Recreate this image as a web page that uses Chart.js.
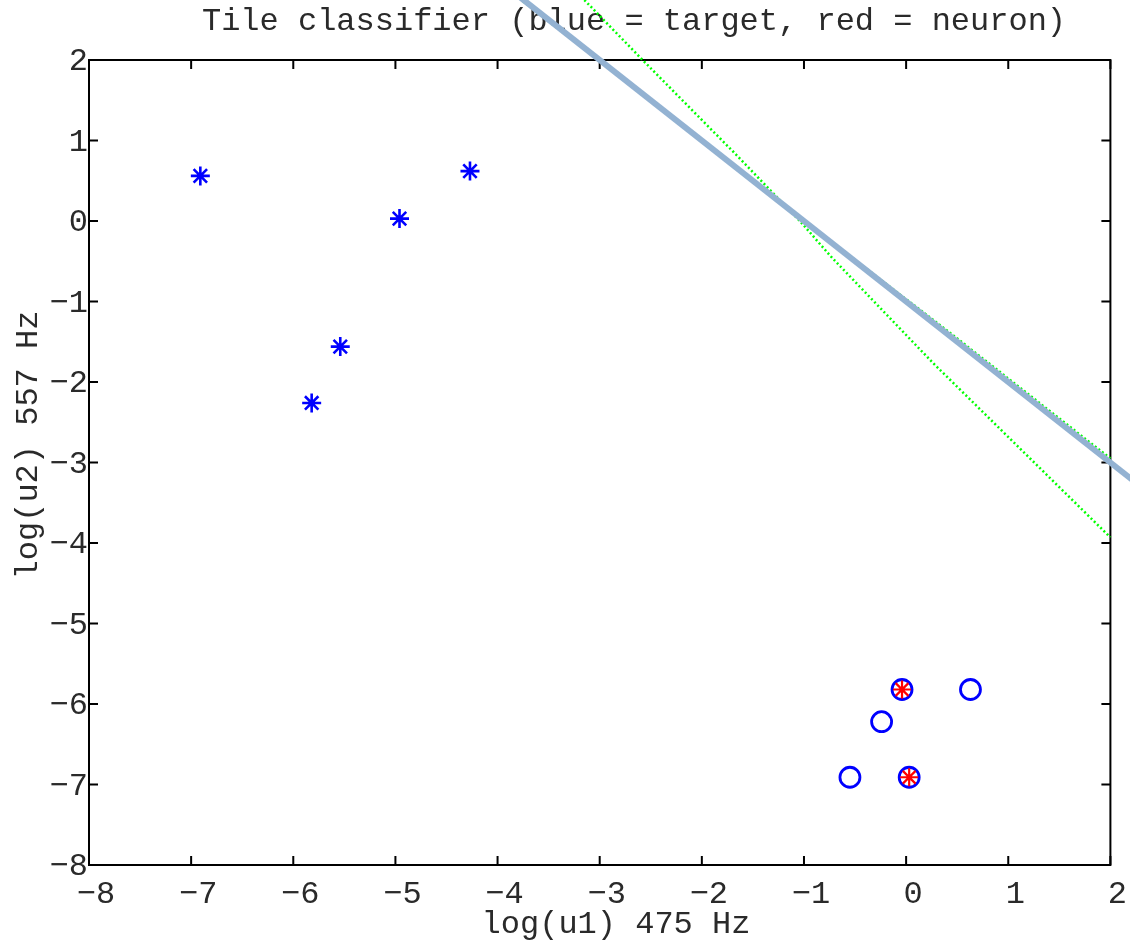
<!DOCTYPE html>
<html lang="en">
<head>
  <meta charset="UTF-8" />
  <title>Tile classifier</title>

  <!-- Chart.js -->
  <script src="https://cdn.jsdelivr.net/npm/chart.js"></script>

  <style>
    html, body { margin: 0; padding: 0; background: #fff; }
    #wrap { width: 1130px; height: 946px; position: relative; }
  </style>
</head>
<body>

<div id="wrap"><canvas id="tileChart"></canvas></div>

<script>
  // axis ticks
  const xTicks = [-8, -7, -6, -5, -4, -3, -2, -1, 0, 1, 2];
  const yTicks = [-8, -7, -6, -5, -4, -3, -2, -1, 0, 1, 2];

  // targets, log(u1) / log(u2)
  const starX = [-6.91, -5.82, -5.54, -4.96, -4.27];
  const starY = [0.56, -2.26, -1.56, 0.03, 0.62];
  const circleX = [-0.04, 0.63, -0.24, -0.55, 0.03];
  const circleY = [-5.82, -5.82, -6.22, -6.91, -6.91];

  // neuron answers
  const neuronX = [-0.04, 0.03];
  const neuronY = [-5.82, -6.91];

  // separating line (blue) and the two green estimates
  const lineX = [-3.8, 2.25];
  const lineY = [2.8, -3.25];
  const greenAX = [-3.15, -2.58, -1.70, -1.04, -0.73, 0.26, 1.23, 2.0];
  const greenAY = [2.745, 2.0, 0.87, 0.0, -0.45, -1.76, -2.97, -3.93];
  const greenBX = [-3.75, -1.0, 0.4, 2.0];
  const greenBY = [2.73, 0.0, -1.36, -2.95];

  const pts = (xs, ys) => xs.map((x, i) => ({ x: x, y: ys[i] }));
  const fmt = v => (v < 0 ? '\u2212' + Math.abs(v) : String(v));
  const FONT = '"Liberation Mono", "Courier New", monospace';
  const INK = '#2a2a2a';

  // box, inward ticks and titles (matlab look)
  const frame = {
    id: 'frame',
    beforeDatasetsDraw(chart) {
      const { ctx, chartArea: a, scales: { x, y } } = chart;
      ctx.save();
      ctx.strokeStyle = '#000';
      ctx.lineWidth = 2;
      ctx.strokeRect(a.left, a.top, a.right - a.left, a.bottom - a.top);
      ctx.beginPath();
      xTicks.forEach(v => {
        const px = x.getPixelForValue(v);
        ctx.moveTo(px, a.bottom); ctx.lineTo(px, a.bottom - 9);
        ctx.moveTo(px, a.top); ctx.lineTo(px, a.top + 9);
      });
      yTicks.forEach(v => {
        const py = y.getPixelForValue(v);
        ctx.moveTo(a.left, py); ctx.lineTo(a.left + 9, py);
        ctx.moveTo(a.right, py); ctx.lineTo(a.right - 9, py);
      });
      ctx.stroke();

      ctx.fillStyle = INK;
      ctx.font = '32px ' + FONT;
      ctx.textAlign = 'center';
      ctx.textBaseline = 'alphabetic';
      ctx.fillText('Tile classifier (blue = target, red = neuron)', 634, 30);
      ctx.fillText('log(u1) 475 Hz', 616, 933);

      ctx.translate(37, 445);
      ctx.rotate(-Math.PI / 2);
      ctx.fillText('log(u2) 557 Hz', 0, 0);
      ctx.restore();
    }
  };

  const tickFont = { family: FONT, size: 32 };

  new Chart(document.getElementById('tileChart'), {
    type: 'scatter',
    data: {
      datasets: [
        {
          label: 'neuron',
          data: pts(neuronX, neuronY),
          pointStyle: 'star',
          pointRadius: 9,
          pointBorderWidth: 2.2,
          borderColor: '#ff0000',
          backgroundColor: '#ff0000'
        },
        {
          label: 'target o',
          data: pts(circleX, circleY),
          pointStyle: 'circle',
          pointRadius: 10,
          pointBorderWidth: 2.8,
          borderColor: '#0000ff',
          backgroundColor: 'rgba(0,0,0,0)'
        },
        {
          label: 'target *',
          data: pts(starX, starY),
          pointStyle: 'star',
          pointRadius: 9.5,
          pointBorderWidth: 2.6,
          borderColor: '#0000ff',
          backgroundColor: '#0000ff'
        },
        {
          label: 'boundary',
          data: pts(lineX, lineY),
          showLine: true,
          pointRadius: 0,
          borderColor: '#93b2d2',
          borderWidth: 6,
          clip: false
        },
        {
          label: 'green a',
          data: pts(greenAX, greenAY),
          showLine: true,
          pointRadius: 0,
          borderColor: '#00ff00',
          borderWidth: 2.5,
          borderDash: [2, 2.5],
          clip: false
        },
        {
          label: 'green b',
          data: pts(greenBX, greenBY),
          showLine: true,
          pointRadius: 0,
          borderColor: '#00ff00',
          borderWidth: 2.5,
          borderDash: [2, 2.5],
          clip: false
        }
      ]
    },
    options: {
      responsive: true,
      maintainAspectRatio: false,
      animation: false,
      layout: { padding: { left: 0, top: 60, right: 19, bottom: 0 } },
      plugins: {
        legend: { display: false },
        tooltip: { enabled: false },
        title: { display: false }
      },
      scales: {
        x: {
          type: 'linear',
          min: -8,
          max: 2,
          afterFit: s => { s.height = 81; },
          afterBuildTicks: s => { s.ticks = xTicks.map(v => ({ value: v })); },
          grid: { display: false, drawTicks: false },
          border: { display: false },
          ticks: {
            autoSkip: false,
            maxRotation: 0,
            padding: 10,
            labelOffset: 7,
            color: INK,
            font: tickFont,
            callback: v => fmt(v)
          }
        },
        y: {
          type: 'linear',
          min: -8,
          max: 2,
          afterFit: s => { s.width = 89; },
          afterBuildTicks: s => { s.ticks = yTicks.map(v => ({ value: v })); },
          grid: { display: false, drawTicks: false },
          border: { display: false },
          ticks: {
            autoSkip: false,
            padding: 1,
            labelOffset: 2,
            color: INK,
            font: tickFont,
            callback: v => fmt(v)
          }
        }
      }
    },
    plugins: [frame]
  });
</script>

</body>
</html>
